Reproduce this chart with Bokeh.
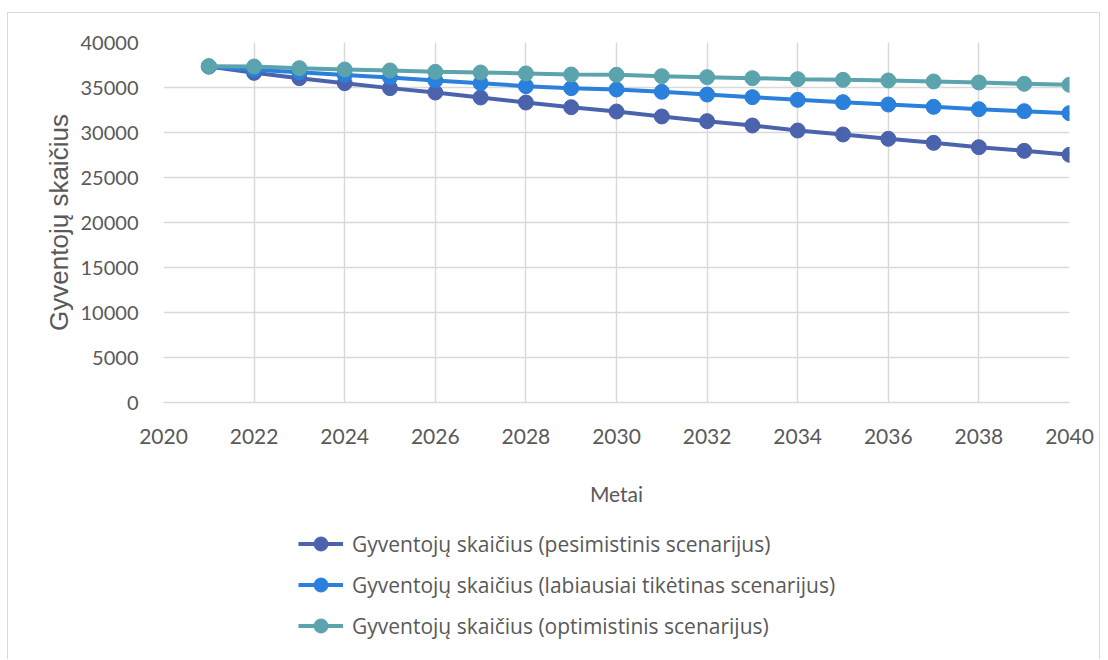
from bokeh.plotting import figure
from bokeh.layouts import column
from bokeh.models import Legend, LegendItem, SingleIntervalTicker, Range1d
from bokeh.embed import file_html
from bokeh.resources import INLINE

years = list(range(2021, 2041))
pesimistinis = [37330, 36630, 36040, 35480, 34930, 34440, 33890, 33330, 32810, 32330,
                31780, 31260, 30780, 30220, 29780, 29300, 28850, 28370, 27960, 27520]
tiketinas = [37330, 36970, 36700, 36400, 36110, 35780, 35480, 35150, 34930, 34780,
             34520, 34220, 33930, 33630, 33370, 33110, 32850, 32590, 32370, 32150]
optimistinis = [37370, 37330, 37150, 37000, 36890, 36740, 36670, 36560, 36440, 36410,
                36260, 36150, 36040, 35930, 35850, 35780, 35670, 35560, 35410, 35300]

series = [
    ("Gyventojų skaičius (pesimistinis scenarijus)", pesimistinis, "#4A63AC"),
    ("Gyventojų skaičius (labiausiai tikėtinas scenarijus)", tiketinas, "#2A80DA"),
    ("Gyventojų skaičius (optimistinis scenarijus)", optimistinis, "#5BA3AD"),
]

grey_text = "#595959"
grid_col = "#d9d9d9"

# main chart
p = figure(
    frame_width=906, frame_height=360,
    min_border_left=155, min_border_right=30, min_border_top=29, min_border_bottom=113,
    x_range=Range1d(2020, 2040), y_range=Range1d(0, 40000),
    output_backend="svg", toolbar_location=None,
)
p.outline_line_color = None

p.xaxis.ticker = SingleIntervalTicker(interval=2)
p.yaxis.ticker = SingleIntervalTicker(interval=5000)
p.xgrid.ticker = SingleIntervalTicker(interval=2)
for g in (p.xgrid, p.ygrid):
    g.grid_line_color = grid_col
    g.grid_line_width = 1.5

for ax in (p.xaxis, p.yaxis):
    ax.axis_line_color = grid_col
    ax.axis_line_width = 1.5
    ax.major_tick_line_color = None
    ax.minor_tick_line_color = None
    ax.major_label_text_color = grey_text
    ax.major_label_text_font = "Lato"
    ax.major_label_text_font_size = "20px"
    ax.axis_label_text_color = grey_text
    ax.axis_label_text_font_style = "normal"

p.xaxis.major_label_text_font_size = "21px"
p.yaxis.axis_line_color = None
p.xaxis.major_label_standoff = 20
p.yaxis.major_label_standoff = 19
p.xaxis.axis_label = "Metai"
p.xaxis.axis_label_text_font = "Lato"
p.xaxis.axis_label_text_font_size = "21px"
p.xaxis.axis_label_standoff = 34
p.yaxis.axis_label = "Gyventojų skaičius"
p.yaxis.axis_label_text_font = "Liberation Sans"
p.yaxis.axis_label_text_font_size = "26px"
p.yaxis.axis_label_standoff = 4

for name, vals, col in series:
    p.line(years, vals, line_color=col, line_width=4)
    p.scatter(years, vals, size=15, fill_color=col, line_color=col)

# legend strip below the chart; its ranges keep the series out of view
leg = figure(
    frame_width=1091, frame_height=144,
    min_border_left=0, min_border_right=0, min_border_top=0, min_border_bottom=0,
    x_range=Range1d(0, 1), y_range=Range1d(0, 1),
    output_backend="svg", toolbar_location=None,
)
leg.axis.visible = False
leg.grid.visible = False
leg.outline_line_color = None

items = []
for name, vals, col in series:
    ln = leg.line(years, vals, line_color=col, line_width=4)
    sc = leg.scatter(years, vals, size=15, fill_color=col, line_color=col)
    items.append(LegendItem(label=name, renderers=[ln, sc]))

legend = Legend(items=items, location=(290, 16), orientation="vertical")
legend.padding = 0
legend.margin = 0
legend.border_line_color = None
legend.background_fill_alpha = 0
legend.glyph_width = 45
legend.glyph_height = 35
legend.label_height = 35
legend.spacing = 6
legend.label_standoff = 9
legend.label_text_font = "Open Sans"
legend.label_text_font_size = "21px"
legend.label_text_color = grey_text
leg.add_layout(legend, "center")

layout = column(
    p, leg, spacing=0,
    styles={"margin-left": "7px", "margin-top": "12px",
            "border-left": "1px solid #d9d9d9", "border-right": "1px solid #d9d9d9",
            "border-top": "1px solid #d9d9d9"},
)

open("out.html", "w").write(file_html(layout, INLINE))
